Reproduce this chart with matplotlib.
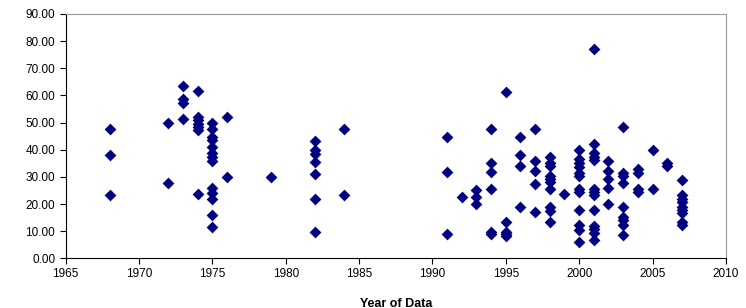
import matplotlib.pyplot as plt
import numpy as np

# values, grouped by year
years = [1968, 1972, 1973, 1974, 1975, 1976, 1979, 1982, 1984, 1991, 1992, 1993,
         1994, 1995, 1996, 1997, 1998, 1999, 2000, 2001, 2002, 2003, 2004, 2005,
         2006, 2007]
values = [
    [47.5, 37.9, 23.3],
    [49.9, 27.7],
    [63.4, 58.5, 57.3, 51.4],
    [61.6, 52.1, 50.9, 49.4, 48.2, 47.2, 23.6],
    [49.7, 47.5, 44.8, 43.6, 41.1, 38.9, 37.4, 36.0, 26.0, 24.2, 22.0, 16.1, 11.5],
    [52.1, 30.1],
    [30.1],
    [43.1, 39.9, 38.4, 35.6, 31.0, 22.0, 9.8],
    [47.5, 23.3],
    [44.5, 31.9, 9.0],
    [22.7],
    [25.2, 22.7, 19.9],
    [47.5, 35.0, 31.9, 25.4, 9.8, 9.0],
    [61.3, 13.5, 9.8, 9.0, 8.4],
    [44.5, 38.0, 34.0, 18.9],
    [47.5, 35.8, 32.1, 27.5, 16.9],
    [37.3, 35.0, 34.1, 30.4, 29.2, 28.0, 25.4, 18.9, 17.4, 13.5],
    [23.6],
    [39.9, 36.6, 35.0, 33.7, 31.5, 30.4, 25.5, 24.5, 17.9, 12.3, 10.4, 5.9],
    [76.9, 42.0, 38.7, 37.4, 36.2, 25.5, 24.5, 23.3, 18.0, 11.9, 10.7, 9.4, 6.7],
    [36.0, 32.1, 29.1, 25.8, 19.9],
    [48.2, 31.5, 30.4, 27.9, 18.9, 15.3, 14.1, 12.3, 8.5],
    [32.8, 31.5, 25.6, 24.5],
    [39.9, 25.6],
    [35.2, 34.0],
    [28.7, 23.2, 21.8, 20.6, 19.0, 17.8, 16.6, 13.5, 12.3],
]

x = np.concatenate([[yr] * len(v) for yr, v in zip(years, values)])
y = np.concatenate(values)

plt.rcParams['font.family'] = ['Liberation Sans', 'DejaVu Sans']

fig = plt.figure(figsize=(7.46, 3.08), dpi=100)
ax = fig.add_axes([0.088, 0.161, 0.885, 0.794])

ax.scatter(x, y, marker='D', s=36, color='#000080', linewidths=0, zorder=3)

ax.set_xlim(1965, 2010)
ax.set_ylim(0, 90)
ax.set_xticks(np.arange(1965, 2011, 5))
ax.set_yticks(np.arange(0, 91, 10))
ax.yaxis.set_major_formatter(plt.FormatStrFormatter('%.2f'))
ax.tick_params(axis='both', labelsize=8.5, length=4, width=0.8, colors='black')
ax.tick_params(axis='x', pad=3)

for side in ['top', 'right']:
    ax.spines[side].set_color('#999999')
for side in ['left', 'bottom']:
    ax.spines[side].set_color('black')

ax.set_xlabel('Year of Data', fontsize=9, fontweight='bold', labelpad=13)

fig.savefig('out.png', dpi=100)
